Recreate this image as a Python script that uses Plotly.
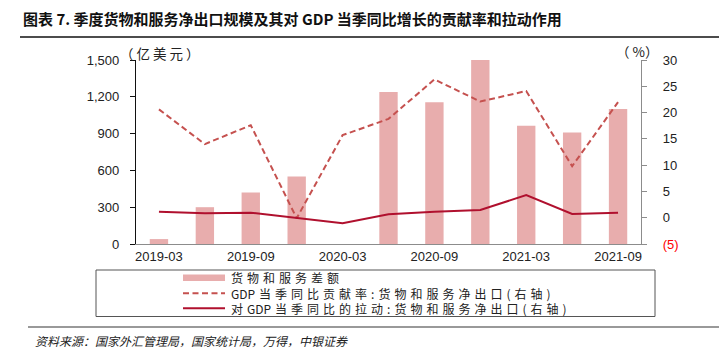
import plotly.graph_objects as go

# ---------------- data ----------------
quarters = ["2019-03", "2019-06", "2019-09", "2019-12", "2020-03", "2020-06",
            "2020-09", "2020-12", "2021-03", "2021-06", "2021-09"]
tick_labels = ["2019-03", "2019-09", "2020-03", "2020-09", "2021-03", "2021-09"]
balance = [40, 300, 420, 550, -100, 1240, 1155, 1500, 965, 908, 1100]          # 亿美元
contribution = [20.6, 14.0, 17.6, -0.1, 15.7, 18.8, 26.3, 22.1, 24.1, 9.8, 22.0]  # %
pull = [1.14, 0.83, 0.95, -0.1, -1.07, 0.64, 1.14, 1.46, 4.3, 0.7, 0.95]       # %

left_ticks = [0, 300, 600, 900, 1200, 1500]
right_ticks = [-5, 0, 5, 10, 15, 20, 25, 30]

# ---------------- styling ----------------
W, H = 719, 356
L, R, T, B = 136, 641, 60, 244
BAR_C = "#E8ADAD"
DASH_C = "#C5514F"
SOLID_C = "#B0102E"
LATIN = "Liberation Sans, Arial, sans-serif"
CJK = "Noto Sans CJK SC, sans-serif"
SP = "\u2004"  # tracking between CJK glyphs


def px(x):
    return (x - L) / (R - L)


def py(y):
    return (B - y) / (B - T)


def track(s):
    out = []
    for i, ch in enumerate(s):
        out.append(ch)
        if i < len(s) - 1 and (ord(ch) > 0x2E80 or ord(s[i + 1]) > 0x2E80):
            out.append(SP)
    return "".join(out)


fig = go.Figure()
fig.add_trace(go.Bar(x=quarters, y=balance, marker=dict(color=BAR_C, line=dict(width=0)),
                     width=0.4, name="货物和服务差额", yaxis="y"))
fig.add_trace(go.Scatter(x=quarters, y=contribution, mode="lines",
                         line=dict(color=DASH_C, width=2, dash="6px,3.5px"),
                         name="GDP当季同比贡献率:货物和服务净出口(右轴)", yaxis="y2"))
fig.add_trace(go.Scatter(x=quarters, y=pull, mode="lines",
                         line=dict(color=SOLID_C, width=2),
                         name="对GDP当季同比的拉动:货物和服务净出口(右轴)", yaxis="y2"))

right_text = [("<span style='color:#FF0000'>(%d)</span>" % -v) if v < 0 else str(v) for v in right_ticks]

fig.update_layout(
    width=W, height=H,
    margin=dict(l=L, r=W - R, t=T, b=H - B, pad=0),
    paper_bgcolor="white", plot_bgcolor="white",
    showlegend=False,
    font=dict(family=LATIN, size=13, color="#222"),
    xaxis=dict(type="category", categoryorder="array", categoryarray=quarters,
               tickvals=tick_labels, ticktext=tick_labels, ticks="",
               showgrid=False, showline=True, linecolor="#8C8C8C", linewidth=1.2,
               tickfont=dict(family=LATIN, size=13, color="#222"), zeroline=False,
               range=[-0.5, len(quarters) - 0.5]),
    yaxis=dict(range=[0, 1500], tickvals=left_ticks, tickformat=",", showgrid=False,
               showline=True, linecolor="#111", linewidth=1.2, ticks="outside",
               ticklen=5, tickcolor="#111", zeroline=False, ticklabelstandoff=8,
               tickfont=dict(family=LATIN, size=13, color="#222")),
    yaxis2=dict(range=[-5, 30], tickvals=right_ticks, ticktext=right_text, overlaying="y",
                side="right", showgrid=False, showline=True, linecolor="#8C8C8C",
                linewidth=1.2, ticks="outside", ticklen=5, tickcolor="#8C8C8C",
                zeroline=False, ticklabelstandoff=13,
                tickfont=dict(family=LATIN, size=13, color="#222")),
    bargap=0.6,
)

shapes = []
ann = []

# title and rules
ann.append(dict(x=px(21), y=py(18), xref="paper", yref="paper", xanchor="left", yanchor="middle",
                showarrow=False,
                text="图表 7. 季度货物和服务净出口规模及其对 GDP 当季同比增长的贡献率和拉动作用",
                font=dict(family=CJK, size=15, color="#111", weight="bold")))
shapes.append(dict(type="line", xref="paper", yref="paper", x0=px(20), x1=px(719), y0=py(37), y1=py(37),
                   line=dict(color="#111", width=1.5)))
shapes.append(dict(type="line", xref="paper", yref="paper", x0=px(28), x1=px(719), y0=py(327), y1=py(327),
                   line=dict(color="#999", width=2)))
ann.append(dict(x=px(33), y=py(340), xref="paper", yref="paper", xanchor="left", yanchor="middle",
                showarrow=False, text="资料来源：国家外汇管理局，国家统计局，万得，中银证券",
                font=dict(family=CJK, size=12, color="#222", style="italic")))

# units
ann.append(dict(x=px(160), y=py(53), xref="paper", yref="paper", xanchor="center", yanchor="middle",
                showarrow=False, text="（ 亿 美 元 ）", font=dict(family=CJK, size=13.5, color="#222")))
ann.append(dict(x=px(637), y=py(51), xref="paper", yref="paper", xanchor="center", yanchor="middle",
                showarrow=False, text="（ %）", font=dict(family=CJK, size=13.5, color="#222")))

# legend box
shapes.append(dict(type="rect", xref="paper", yref="paper", x0=px(96), x1=px(655), y0=py(270), y1=py(316.5),
                   line=dict(color="#555", width=1), fillcolor="rgba(0,0,0,0)"))
rows = [277.7, 293.3, 308.3]
shapes.append(dict(type="rect", xref="paper", yref="paper", x0=px(183), x1=px(225), y0=py(274.5), y1=py(281),
                   line=dict(width=0), fillcolor=BAR_C))
shapes.append(dict(type="line", xref="paper", yref="paper", x0=px(183), x1=px(225), y0=py(rows[1]), y1=py(rows[1]),
                   line=dict(color=DASH_C, width=2, dash="6px,3.5px")))
shapes.append(dict(type="line", xref="paper", yref="paper", x0=px(183), x1=px(225), y0=py(rows[2]), y1=py(rows[2]),
                   line=dict(color=SOLID_C, width=2)))
leg_texts = [
    "货物和服务差额",
    "GDP当季同比贡献率:货物和服务净出口(右轴)",
    "对GDP当季同比的拉动:货物和服务净出口(右轴)",
]
ann.append(dict(x=px(229), y=py(rows[1]), xref="paper", yref="paper", xanchor="left", yanchor="middle",
                align="left", showarrow=False, text="<br>".join(track(t) for t in leg_texts),
                font=dict(family=CJK, size=12, color="#222")))

fig.update_layout(shapes=shapes, annotations=ann)
fig.write_html("out.html", config={"displayModeBar": False},
               post_script="document.body.style.margin='0';document.body.style.padding='0';")
